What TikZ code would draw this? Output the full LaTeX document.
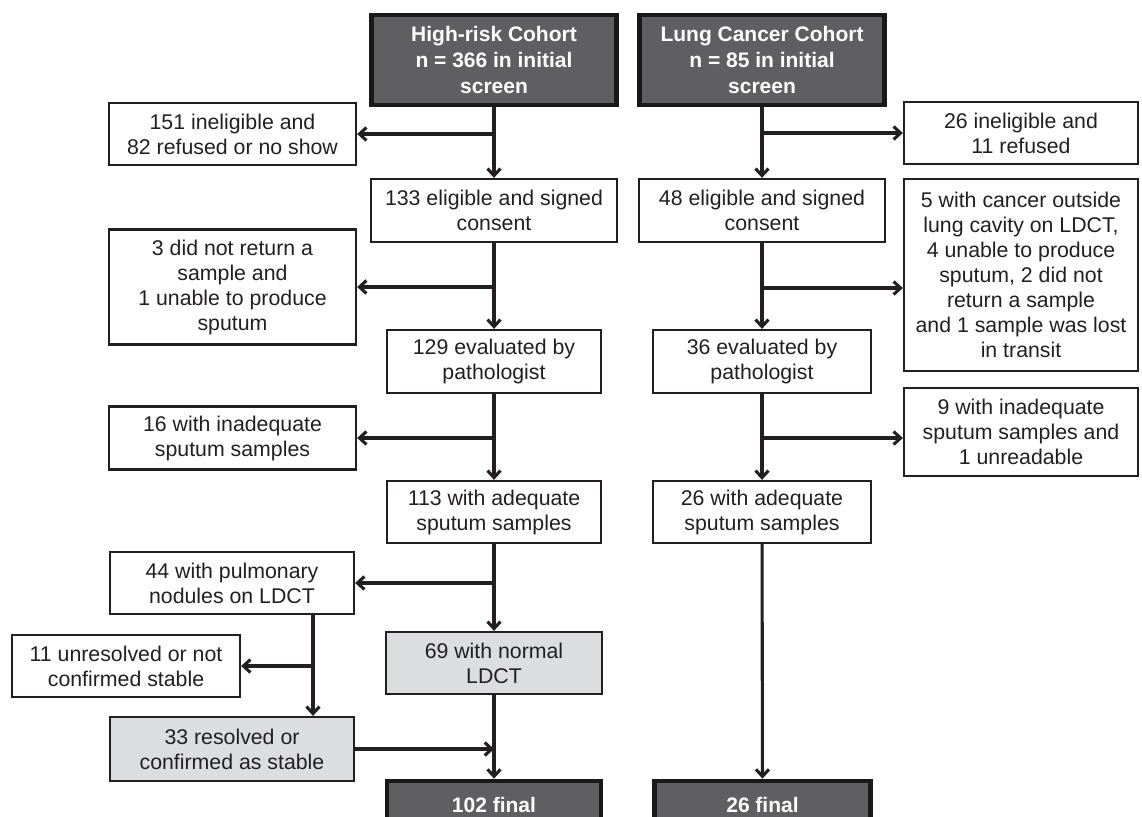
\documentclass[tikz,border=0pt]{standalone}
\usepackage{fontspec}
\setmainfont{Liberation Sans}
\usetikzlibrary{arrows.meta}
\definecolor{ink}{HTML}{231F20}
\definecolor{darkfill}{HTML}{5F5F61}
\definecolor{grayfill}{HTML}{DCDDDF}
\begin{document}
\begin{tikzpicture}[x=1pt,y=-1pt,
  box/.style={draw=ink,line width=2.3pt,fill=white,rectangle,inner sep=0pt,align=center,text=ink,font=\fontsize{21.3}{25}\selectfont},
  graybox/.style={box,fill=grayfill},
  darkbox/.style={draw=black!90,line width=4.8pt,fill=darkfill,rectangle,inner sep=0pt,align=center,text=white,font=\bfseries\fontsize{21}{26}\selectfont},
  arr/.style={draw=ink,line width=3.1pt,-{Straight Barb[length=7pt,width=13pt]}}]
\useasboundingbox (0,0) rectangle (1142,816);
\clip (0,0) rectangle (1142,816);
% top cohorts
\node[darkbox,minimum width=245,minimum height=90] (hr) at (494,60) {High-risk Cohort\\n = 366 in initial\\screen};
\node[darkbox,minimum width=245,minimum height=90] (lc) at (762,60) {Lung Cancer Cohort\\n = 85 in initial\\screen};
% exclusions row 1
\node[box,minimum width=247,minimum height=62] (e151) at (232.5,134) {151 ineligible and\\82 refused or no show};
\node[box,minimum width=234,minimum height=62] (e26) at (1021,133) {26 ineligible and\\11 refused};
% consent
\node[box,minimum width=246,minimum height=63] (c133) at (494,210.5) {133 eligible and signed\\consent};
\node[box,minimum width=246,minimum height=63] (c48) at (762,210.5) {48 eligible and signed\\consent};
% exclusions row 2
\node[box,minimum width=247,minimum height=115] (e3) at (232.5,287) {3 did not return a\\sample and\\1 unable to produce\\sputum};
\node[box,minimum width=234,minimum height=192] (e5) at (1021,275) {5 with cancer outside\\lung cavity on LDCT,\\4 unable to produce\\sputum, 2 did not\\return a sample\\and 1 sample was lost\\in transit};
% evaluated
\node[box,minimum width=214,minimum height=63] (c129) at (494,361.5) {129 evaluated by\\pathologist};
\node[box,minimum width=218,minimum height=63] (c36) at (762,361.5) {36 evaluated by\\pathologist};
% exclusions row 3
\node[box,minimum width=247,minimum height=63] (e16) at (232.5,438) {16 with inadequate\\sputum samples};
\node[box,minimum width=234,minimum height=88] (e9) at (1021,432) {9 with inadequate\\sputum samples and\\1 unreadable};
% adequate
\node[box,minimum width=214,minimum height=62] (c113) at (494,512) {113 with adequate\\sputum samples};
\node[box,minimum width=218,minimum height=62] (c26) at (762,512) {26 with adequate\\sputum samples};
% LDCT branch
\node[box,minimum width=244,minimum height=62] (e44) at (232,583) {44 with pulmonary\\nodules on LDCT};
\node[box,minimum width=228,minimum height=62] (e11) at (126,666) {11 unresolved or not\\confirmed stable};
\node[graybox,minimum width=216,minimum height=62] (g69) at (494,663) {69 with normal\\LDCT};
\node[graybox,minimum width=244,minimum height=64] (g33) at (232,749) {33 resolved or\\confirmed as stable};
% finals
\node[darkbox,minimum width=214,minimum height=48] (f102) at (494,805) {102 final};
\node[darkbox,minimum width=216,minimum height=48] (f26) at (762.5,805) {26 final};
% connectors left column
\draw[arr] (hr) -- (c133);
\coordinate (b1) at (hr.south |- e151.east);
\draw[arr] (b1) -- (e151.east);
\draw[arr] (c133) -- (c129);
\coordinate (b3) at (c133.south |- e3.east);
\draw[arr] (b3) -- (e3.east);
\draw[arr] (c129) -- (c113);
\coordinate (b5) at (c129.south |- e16.east);
\draw[arr] (b5) -- (e16.east);
\draw[arr] (c113) -- (g69);
\coordinate (b7) at (c113.south |- e44.east);
\draw[arr] (b7) -- (e44.east);
\coordinate (t1) at ([xshift=81pt]e44.south);
\coordinate (t2) at ([xshift=81pt]g33.north);
\draw[arr] (t1) -- (t2);
\coordinate (b8) at (t1 |- e11.east);
\draw[arr] (b8) -- (e11.east);
\draw[arr] (g69) -- (f102);
\coordinate (b9) at (g33.east -| f102.north);
\draw[arr] (g33.east) -- (b9);
% connectors right column
\draw[arr] (lc) -- (c48);
\coordinate (b2) at (lc.south |- e26.west);
\draw[arr] (b2) -- (e26.west);
\draw[arr] (c48) -- (c36);
\coordinate (b4) at (762,288);
\draw[arr] (b4) -- (e5.west |- b4);
\draw[arr] (c36) -- (c26);
\coordinate (b6) at (762,438);
\draw[arr] (b6) -- (e9.west |- b6);
\draw[arr] (c26) -- (f26);
\end{tikzpicture}
\end{document}
